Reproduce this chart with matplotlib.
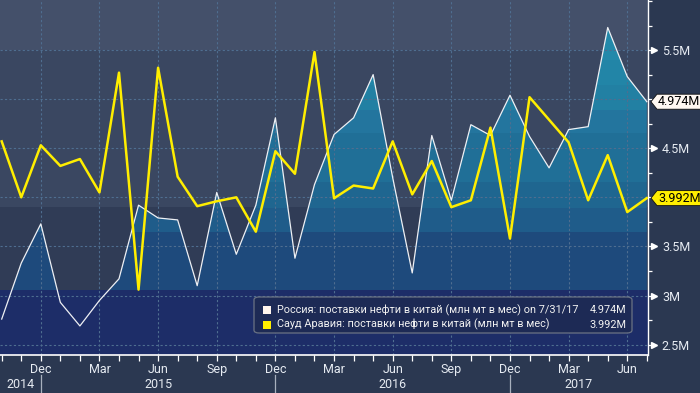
import numpy as np
import pandas as pd
import matplotlib
matplotlib.use('Agg')
import matplotlib.pyplot as plt
from matplotlib.patches import Polygon, FancyBboxPatch, Rectangle
from matplotlib.transforms import IdentityTransform, blended_transform_factory
from matplotlib.colors import to_rgb
from matplotlib.ticker import FixedLocator, FixedFormatter, MultipleLocator

plt.rcParams['font.family'] = ['Roboto', 'DejaVu Sans']

# ---------------- data ----------------
months = pd.date_range('2014-10-31', periods=34, freq='ME')
russia = [2.76, 3.33, 3.73, 2.93, 2.69, 2.95, 3.17, 3.92, 3.79, 3.77, 3.10, 4.05,
          3.42, 3.92, 4.81, 3.38, 4.13, 4.64, 4.81, 5.25, 4.20, 3.23, 4.63, 3.97,
          4.74, 4.63, 5.04, 4.62, 4.30, 4.69, 4.72, 5.73, 5.23, 4.974]
saudi = [4.57, 4.00, 4.53, 4.32, 4.39, 4.05, 5.27, 3.06, 5.32, 4.21, 3.91, 3.96,
         4.00, 3.65, 4.47, 4.24, 5.48, 3.99, 4.12, 4.09, 4.57, 4.03, 4.37, 3.90,
         3.97, 4.71, 3.58, 5.02, 4.79, 4.56, 3.97, 4.43, 3.85, 3.992]
series_labels = ['Россия: поставки нефти в китай (млн мт в мес) on 7/31/17',
                 'Сауд Аравия: поставки нефти в китай (млн мт в мес)']
y_ticks = [2.5, 3.0, 3.5, 4.0, 4.5, 5.0, 5.5]
y_tick_labels = ['2.5M', '3M', '3.5M', '', '4.5M', '', '5.5M']
year_labels = ['2014', '2015', '2016', '2017']

# ---------------- styles ----------------
FIG_BG = '#2b3851'
RUS_COL = '#eef0f4'
SAU_COL = '#ffee00'
TXT = '#e6ebf2'

W, H = 700, 393
fig = plt.figure(figsize=(W / 100, H / 100), dpi=100, facecolor=FIG_BG)
ax_l, ax_b, ax_w, ax_h = 0, 38, 648, 355
ax = fig.add_axes([ax_l / W, ax_b / H, ax_w / W, ax_h / H])

x = np.arange(len(russia))
x0, x1 = -0.087, 33.06
y0, y1 = 2.394, 6.01
ax.set_xlim(x0, x1)
ax.set_ylim(y0, y1)

# background bands (value-based)
def band_image(bands, n=1200):
    vals = np.linspace(y0, y1, n)
    img = np.zeros((n, 1, 3))
    for i, v in enumerate(vals):
        for lo, hi, c in bands:
            if lo <= v < hi:
                img[i, 0] = to_rgb(c)
                break
    return img

bg_bands = [(-10, 3.06, '#1d2d68'), (3.06, 3.90, '#303c56'),
            (3.90, 5.5, '#3a4761'), (5.5, 10, '#44506a')]
fill_bands = [(-10, 3.06, '#1d2d68'), (3.06, 3.65, '#1e4a7c'), (3.65, 3.89, '#1f5c8a'),
              (3.89, 4.16, '#1f6690'), (4.16, 4.65, '#206f97'), (4.65, 4.89, '#23759e'),
              (4.89, 5.14, '#2280a3'), (5.14, 5.40, '#2285a7'), (5.40, 10, '#2389aa')]

ax.imshow(band_image(bg_bands), extent=[x0, x1, y0, y1], aspect='auto',
          origin='lower', zorder=0.1, interpolation='nearest')
poly = ax.fill_between(x, russia, y0, color='none', lw=0)
fim = ax.imshow(band_image(fill_bands), extent=[x0, x1, y0, y1], aspect='auto',
                origin='lower', zorder=0.2, interpolation='nearest')
fim.set_clip_path(poly.get_paths()[0], transform=ax.transData)

# lines
ax.plot(x, russia, color=RUS_COL, lw=0.9, zorder=3)
ax.plot(x, saudi, color=SAU_COL, lw=1.8, zorder=4)

# x ticks
qidx = [i for i, d in enumerate(months) if d.month in (3, 6, 9, 12)]
ax.xaxis.set_major_locator(FixedLocator(qidx))
ax.xaxis.set_major_formatter(FixedFormatter([months[i].strftime('%b') for i in qidx]))
ax.xaxis.set_minor_locator(FixedLocator(list(x)))
ax.tick_params(axis='x', which='both', direction='out', length=4, width=0.9,
               color='white', labelcolor=TXT, labelsize=9, pad=2)

# y ticks on right
ax.yaxis.tick_right()
ax.yaxis.set_major_locator(FixedLocator(y_ticks))
ax.yaxis.set_major_formatter(FixedFormatter(y_tick_labels))
ax.yaxis.set_minor_locator(MultipleLocator(0.25))
ax.tick_params(axis='y', which='both', direction='out', length=3, width=0.9,
               color='white', labelcolor=TXT, labelsize=9, pad=7)
tr_y = blended_transform_factory(ax.transAxes, ax.transData)
for v, lab in zip(y_ticks, y_tick_labels):
    if lab:
        ax.plot([1 + 6 / ax_w], [v], marker='>', ms=4, color='white',
                transform=tr_y, clip_on=False, zorder=5)

# grid
ax.set_axisbelow(True)
ax.grid(which='major', color='#4f6e90', lw=0.8, ls=(0, (2, 2)))

for s in ['top', 'left']:
    ax.spines[s].set_visible(False)
ax.spines['right'].set_color('white')
ax.spines['bottom'].set_color('white')
ax.spines['right'].set_linewidth(1)
ax.spines['bottom'].set_linewidth(1.2)

# year separators and labels
tr_x = blended_transform_factory(ax.transData, ax.transAxes)
dec_idx = [i for i, d in enumerate(months) if d.month == 12]
for i in dec_idx:
    ax.plot([i, i], [-20 / ax_h, -40 / ax_h], color='#a8b0be', lw=0.9,
            transform=tr_x, clip_on=False)
bounds = [x0] + dec_idx + [x1]
for k, yl in enumerate(year_labels):
    cx = (bounds[k] + bounds[k + 1]) / 2
    ax.text(cx, -29 / ax_h, yl, transform=tr_x, ha='center', va='center',
            color=TXT, fontsize=9)

fig.canvas.draw()

# value tags on right axis
def tag(v, fc):
    yd = ax.transData.transform((0, v))[1]
    xa = ax_w + 3
    hh = 7.5
    verts = [(xa, yd), (xa + 6, yd + hh), (W + 2, yd + hh), (W + 2, yd - hh), (xa + 6, yd - hh)]
    p = Polygon(verts, closed=True, facecolor=fc, edgecolor='#111111', lw=0.6,
                transform=IdentityTransform())
    fig.add_artist(p)
    fig.text((xa + 7) / W, yd / H, f'{v:.3f}M', ha='left', va='center',
             color='black', fontsize=9)

tag(russia[-1], '#fff8f2')
tag(saudi[-1], SAU_COL)

# legend (manual)
def ax_xy(px, py):
    return px / ax_w, (H - py - ax_b) / ax_h

lx0, ly0 = ax_xy(254, 333)
lx1, ly1 = ax_xy(632, 297)
box = FancyBboxPatch((lx0, ly0), lx1 - lx0, ly1 - ly0,
                     boxstyle='round,pad=0,rounding_size=0.008',
                     transform=ax.transAxes, facecolor='#1d2a55',
                     edgecolor='#6a7284', lw=0.9, zorder=6)
ax.add_patch(box)
for k, (lab, col, val) in enumerate(zip(series_labels, [RUS_COL, SAU_COL],
                                        [russia[-1], saudi[-1]])):
    py = 310 + k * 14.5
    sx, sy = ax_xy(262.5, py + 4)
    ax.add_patch(Rectangle((sx, sy), 8.5 / ax_w, 8 / ax_h, transform=ax.transAxes,
                           facecolor=col if k else '#fff5ee', lw=0, zorder=7))
    tx, ty = ax_xy(277, py)
    ax.text(tx, ty, lab, transform=ax.transAxes, ha='left', va='center',
            color='#f2f2f2', fontsize=7.8, zorder=7)
    vx, _ = ax_xy(626, py)
    ax.text(vx, ty, f'{val:.3f}M', transform=ax.transAxes, ha='right', va='center',
            color='#f2f2f2', fontsize=7.8, zorder=7)

fig.savefig('out.png', dpi=100, facecolor=FIG_BG)
